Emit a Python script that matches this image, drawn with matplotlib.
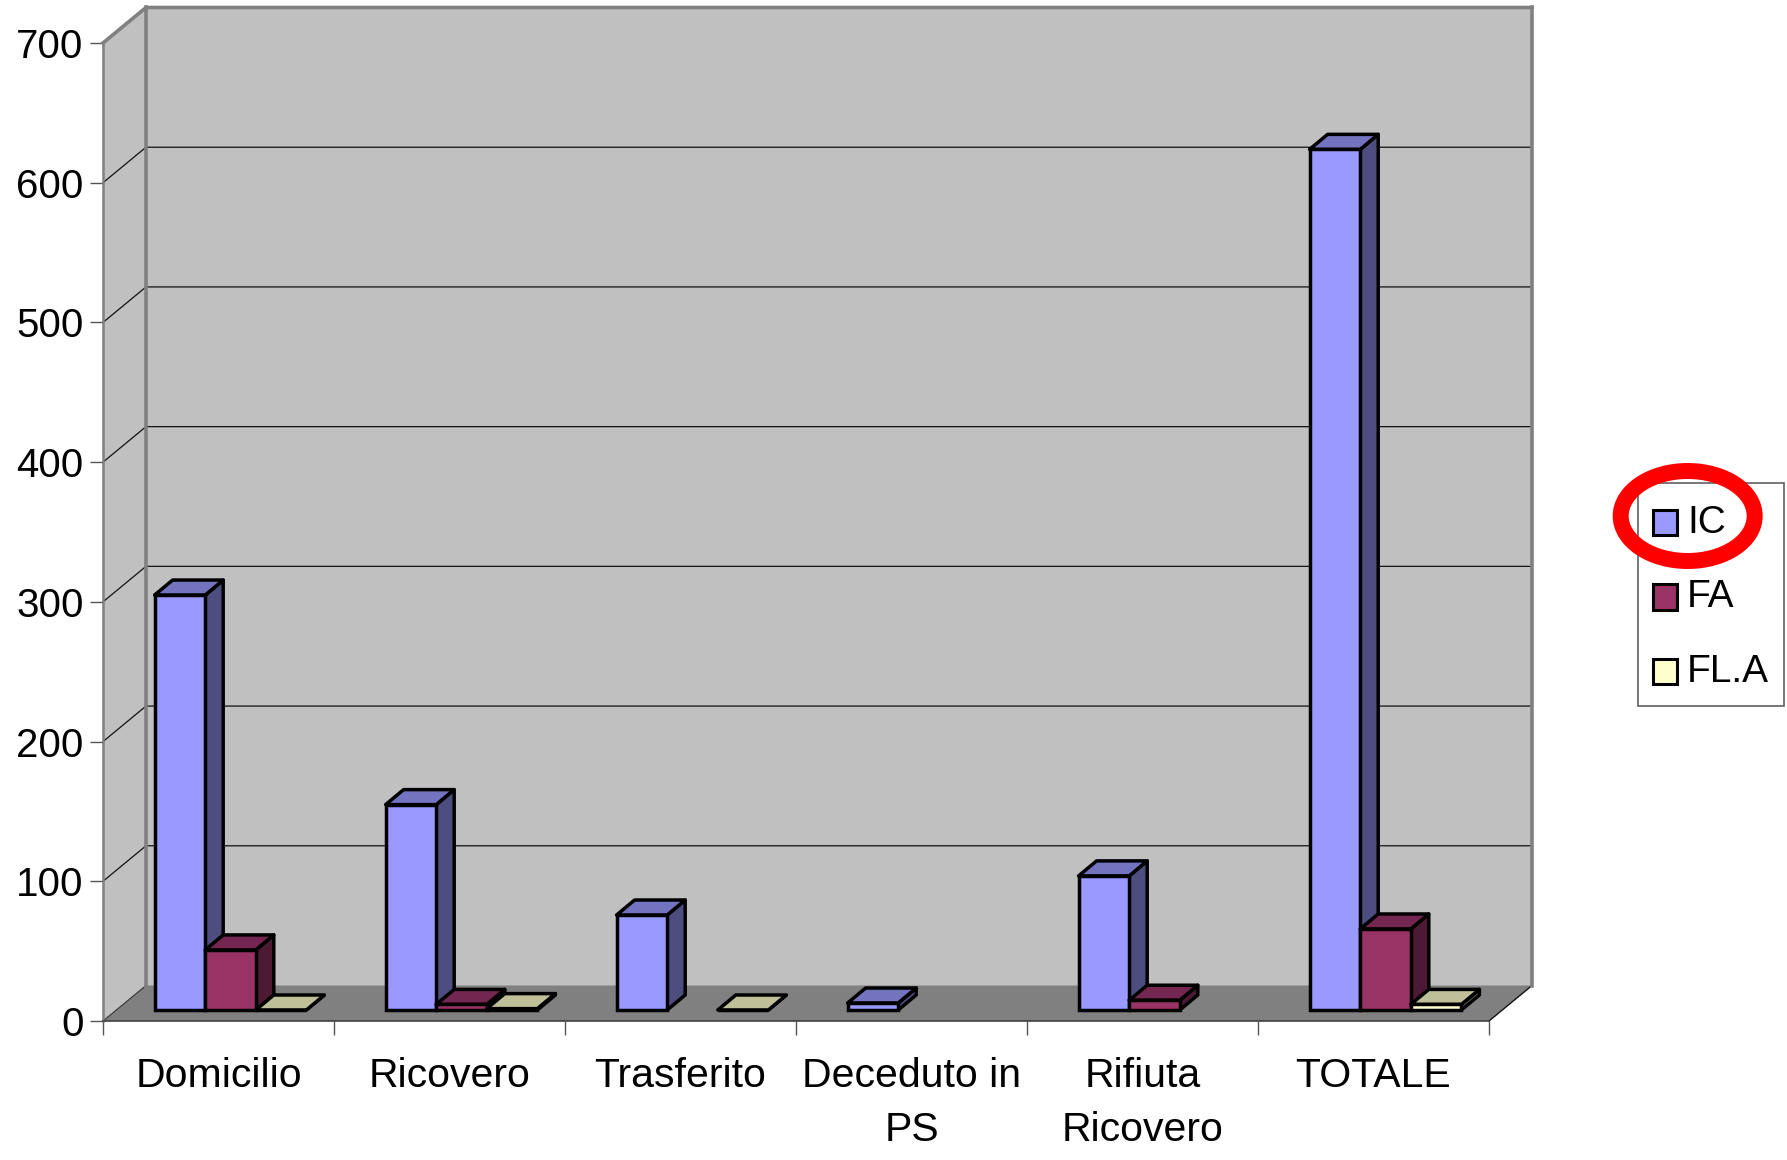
import matplotlib
matplotlib.use("Agg")
import matplotlib.pyplot as plt
from matplotlib.patches import Polygon, Patch, Ellipse, Rectangle

plt.rcParams['font.family'] = ['Liberation Sans', 'DejaVu Sans']

# Chart data
categories = ["Domicilio", "Ricovero", "Trasferito", "Deceduto in\nPS", "Rifiuta\nRicovero", "TOTALE"]
ic_values = [297, 147, 68, 5, 96, 616]
fa_values = [43, 4, None, None, 7, 58]
fla_values = [0, 1, 0, None, None, 4]
y_ticks = [0, 100, 200, 300, 400, 500, 600, 700]
series_names = ["IC", "FA", "FL.A"]

# Front, top and side shades of each series
front_colors = ["#9999FF", "#993366", "#FFFFCC"]
top_colors = ["#7373BF", "#732650", "#BFBF99"]
side_colors = ["#4D4D80", "#4D1A33", "#808066"]

W, H = 1787, 1160
LEFT, RIGHT, BOTTOM, TOP = 103, 1489, 1021, 43
GREY = "#808080"

fig = plt.figure(figsize=(W / 100, H / 100), dpi=100, facecolor="white")
ax = fig.add_axes([LEFT / W, (H - BOTTOM) / H, (RIGHT - LEFT) / W, (BOTTOM - TOP) / H])
ax.set_xlim(0, len(categories))
ax.set_ylim(0, 700)
ax.patch.set_visible(False)

px_x = len(categories) / (RIGHT - LEFT)
px_y = 700 / (BOTTOM - TOP)

# Depth of the box and of the bars, converted to data units
box_dx, box_dy = 43 * px_x, 35.5 * px_y
gap_dx, gap_dy = 12 * px_x, 11 * px_y
bar_dx, bar_dy = 18 * px_x, 15 * px_y
bar_w = 0.219
x_max = len(categories)


def poly(points, face, edge="none", lw=0.0, z=1):
    ax.add_patch(Polygon(points, closed=True, facecolor=face, edgecolor=edge,
                         linewidth=lw, joinstyle="round", clip_on=False, zorder=z))


# Walls and floor
poly([(0, 0), (box_dx, box_dy), (box_dx, 700 + box_dy), (0, 700)], "#C0C0C0", z=1)
poly([(box_dx, box_dy), (x_max + box_dx, box_dy), (x_max + box_dx, 700 + box_dy), (box_dx, 700 + box_dy)],
     "#C0C0C0", z=1)
poly([(0, 0), (x_max, 0), (x_max + box_dx, box_dy), (box_dx, box_dy)], GREY, z=1)

# Gridlines run along the back wall and down the side wall
for t in y_ticks[1:-1]:
    ax.plot([0, box_dx, x_max + box_dx], [t, t + box_dy, t + box_dy], color="#111111", lw=0.9,
            clip_on=False, zorder=2, solid_joinstyle="miter")
ax.plot([0, box_dx], [0, box_dy], color="#333333", lw=0.8, clip_on=False, zorder=2)
ax.plot([x_max, x_max + box_dx], [0, box_dy], color="#111111", lw=1.0, clip_on=False, zorder=2)

# Grey outline of the box
ax.plot([box_dx, box_dx], [box_dy, 700 + box_dy], color=GREY, lw=2.6, clip_on=False, zorder=3)
ax.plot([x_max + box_dx, x_max + box_dx], [box_dy, 700 + box_dy], color=GREY, lw=2.6, clip_on=False, zorder=3)
ax.plot([0, box_dx, x_max + box_dx], [700, 700 + box_dy, 700 + box_dy], color=GREY, lw=2.6,
        clip_on=False, zorder=3, solid_joinstyle="round")

# Bars, drawn left to right so later ones sit over earlier side faces
EDGE = 2.5
z = 4
for i in range(len(categories)):
    for j, values in enumerate([ic_values, fa_values, fla_values]):
        v = values[i]
        if v is None:
            continue
        x0 = i + 0.5 + (j - 1.5) * bar_w + gap_dx
        x1 = x0 + bar_w
        base = gap_dy
        top = base + v
        poly([(x1, base), (x1 + bar_dx, base + bar_dy), (x1 + bar_dx, top + bar_dy), (x1, top)],
             side_colors[j], "black", EDGE, z)
        poly([(x0, top), (x1, top), (x1 + bar_dx, top + bar_dy), (x0 + bar_dx, top + bar_dy)],
             top_colors[j], "black", EDGE, z)
        ax.bar(x0, v, width=bar_w, bottom=base, align="edge", color=front_colors[j],
               edgecolor="black", linewidth=EDGE, clip_on=False, zorder=z)
        z += 1

# Axes, ticks and labels
for name in ("top", "right"):
    ax.spines[name].set_visible(False)
ax.spines["left"].set_color(GREY)
ax.spines["left"].set_linewidth(1.8)
ax.spines["left"].set_zorder(3)
ax.spines["bottom"].set_color("#404040")
ax.spines["bottom"].set_linewidth(1.2)
ax.spines["bottom"].set_zorder(3)

ax.set_yticks(y_ticks)
ax.set_yticklabels([str(t) for t in y_ticks])
ax.set_xticks(range(len(categories) + 1))
ax.set_xticklabels([""] * (len(categories) + 1))
ax.tick_params(axis="y", length=9.4, width=1.0, color="#555555", pad=4.5, labelsize=29)
ax.tick_params(axis="x", length=10, width=1.0, color="#555555", pad=0)

for i, label in enumerate(categories):
    ax.annotate(label, xy=(i + 0.5, 0), xycoords="data", xytext=(0, -25.8), textcoords="offset points",
                ha="center", va="top", fontsize=29.5, linespacing=1.55, color="black", annotation_clip=False)

# Legend box, with the entries placed inside it
fig.add_artist(Rectangle((1637.5 / W, 1 - 705.5 / H), 146 / W, 223 / H, transform=fig.transFigure,
                         facecolor="white", edgecolor="#606060", linewidth=1.2, zorder=4))
handles = [Patch(facecolor=c, edgecolor="black", linewidth=2.2, joinstyle="round") for c in front_colors]
legend = fig.legend(handles, series_names, loc="upper left",
                    bbox_to_anchor=(1652.7 / W, 1 - 504.8 / H), fontsize=28, frameon=False,
                    borderpad=0, handlelength=0.62, handleheight=0.62, handletextpad=0.26,
                    labelspacing=0.99, borderaxespad=0)
legend.set_zorder(5)
for patch in legend.get_patches():
    patch.set_y(patch.get_y() - 2.5)

# Red ring around the first legend entry
fig.add_artist(Ellipse((1687.7 / W, 1 - 516 / H), 134 / W, 90 / H, transform=fig.transFigure,
                       facecolor="none", edgecolor="#FF0000", linewidth=11.5, zorder=20))

fig.savefig("out.png", dpi=100)
